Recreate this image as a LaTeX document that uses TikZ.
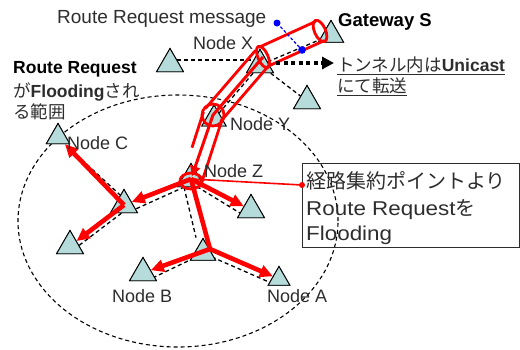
\documentclass[tikz,border=0pt]{standalone}
\usepackage{fontspec}
\setmainfont{Liberation Sans}
\newfontfamily\jp{Noto Sans CJK JP}
\newfontfamily\wlat{Liberation Sans}[FakeStretch=1.12]
\usetikzlibrary{shapes.geometric,arrows.meta,calc}
\definecolor{trifill}{RGB}{182,219,219}
\definecolor{txtgray}{RGB}{45,45,45}
\tikzset{
  tri/.style={regular polygon, regular polygon sides=3, minimum size=31pt, inner sep=0pt, draw=black, line width=0.9pt, fill=trifill},
  region/.style={draw=black, line width=1.1pt, dash pattern=on 4pt off 3pt},
  link/.style={draw=black, line width=1.3pt, dash pattern=on 4pt off 3pt},
  tubeline/.style={draw=red, line width=2.8pt},
  tubecap/.style={ellipse, draw=red, line width=2.8pt, inner sep=0pt},
  flood/.style={draw=red, line width=4.6pt, -{Triangle[length=13pt,width=12pt]}},
  lbl/.style={text=txtgray, inner sep=0pt, anchor=base west},
}
\begin{document}
\begin{tikzpicture}[x=1pt,y=-1pt,font=\fontsize{18}{22}\selectfont]
\useasboundingbox (0,0) rectangle (520,349);
% flooding region
\draw[region] (178,221) ellipse [x radius=160pt, y radius=126pt];
\path (170,64) coordinate (cT0) (260,65) coordinate (cX) (331,35) coordinate (cG)
      (307,101) coordinate (cTR) (214,119) coordinate (cY) (191,179) coordinate (cZ)
      (251,210) coordinate (cRZ) (58,137) coordinate (cC) (124,205) coordinate (cML)
      (70,246) coordinate (cLL) (203,253) coordinate (cBM) (143,273) coordinate (cB)
      (279,279) coordinate (cA);
\node[tri] (T0) at (cT0) {};
\node[tri] (X) at (cX) {};
\node[tri, minimum size=29pt] (G) at (cG) {};
\node[tri] (TR) at (cTR) {};
\node[tri, minimum size=28pt] (Y) at (cY) {};
\node[tri] (Z) at (cZ) {};
\node[tri] (RZ) at (cRZ) {};
\node[tri, minimum size=27pt] (C) at (cC) {};
\node[tri] (ML) at (cML) {};
\node[tri] (LL) at (cLL) {};
\node[tri, minimum size=29pt] (BM) at (cBM) {};
\node[tri] (B) at (cB) {};
\node[tri, minimum size=25pt] (A) at (cA) {};
% dashed links
\draw[link] ([shift={(0,-4)}]T0.center) -- ([shift={(0,-5)}]X.center);
\draw[link] (X) -- (TR);
\draw[link] (X) -- (G);
\draw[link] (X) -- (Y);
\draw[link] ([shift={(0,5)}]Z.center) -- ([shift={(0,5)}]ML.east);
\draw[link] ([shift={(7,0)}]ML.center) -- ([shift={(7,0)}]C.south);
\draw[link] ([shift={(3,4)}]ML.center) -- ([shift={(3,4)}]LL.center);
\draw[link] ([shift={(0,4)}]Z.center) -- ([shift={(0,4)}]RZ.west);
\draw[link] ([shift={(-7,0)}]Z.south) -- ([shift={(-7,0)}]BM.north);
\draw[link] ([shift={(0,5)}]BM.west) -- ([shift={(0,5)}]B.east);
\draw[link] ([shift={(0,4)}]BM.east) -- ([shift={(0,4)}]A.west);
% redraw triangles over the links
\foreach \n/\s in {T0/31,X/31,G/29,TR/31,Y/28,Z/31,RZ/31,C/27,ML/31,LL/31,BM/29,B/31,A/25}
  \node[tri, minimum size=\s pt] at (\n.center) {};
% tunnel
\coordinate (tG) at (320,31);
\coordinate (tX) at (263,57);
\coordinate (tY) at (213,115);
\coordinate (tZ) at (192,180);
\draw[tubeline] ($(tX)!10.5pt!90:(tG)$) -- ($(tG)!10.5pt!-90:(tX)$);
\draw[tubeline] ($(tX)!10.5pt!-90:(tG)$) -- ($(tG)!10.5pt!90:(tX)$);
\draw[tubeline] ($(tY)!10pt!90:(tX)$) -- ($(tX)!10pt!-90:(tY)$);
\draw[tubeline] ($(tY)!10pt!-90:(tX)$) -- ($(tX)!10pt!90:(tY)$);
\draw[tubeline] ($(tY)!10pt!90:(tZ)$) -- ($(tZ)!10pt!-90:(tY)$);
\draw[tubeline] ($(tY)!10pt!-90:(tZ)$) -- ($($(tY)!10pt!-90:(tZ)$)!0.55!($(tZ)!10pt!90:(tY)$)$);
\node[tubecap, minimum width=11pt, minimum height=23pt, rotate=24] (capG) at (tG) {};
\node[tubecap, minimum width=10pt, minimum height=23pt, rotate=24] (capX) at (tX) {};
\node[circle, draw=red, line width=2.8pt, minimum size=22pt, inner sep=0pt] (capY) at (tY) {};
\node[ellipse, draw=red, line width=2.8pt, minimum width=22pt, minimum height=16pt, inner sep=0pt] (capZ) at (191,181) {};
% message path inside tunnel
\draw[red, line width=3pt, -{Triangle[length=10pt,width=10pt]}, shorten >=3pt] (tX) -- (tY) -- (Z.center);
% flooding arrows
\draw[flood] (Z.center) -- (ML);
\draw[flood] (ML.center) -- (C);
\draw[flood] (ML.center) -- (LL);
\draw[flood] (Z.center) -- (RZ);
\coordinate (hub) at (210,249);
\draw[red, line width=4.6pt] (Z.center) -- (hub);
\draw[flood] (hub) -- (B);
\draw[flood] (hub) -- (A);
% callout
\node[draw=txtgray, line width=0.9pt, anchor=north west, minimum width=217pt, minimum height=84pt, inner sep=0pt] (box) at (302,163) {};
\coordinate (cdot) at (302,185);
\draw[red, line width=1.6pt] (Z.center) -- (cdot);
\fill[red] (cdot) circle[radius=3pt];
\node[lbl, font=\jp\fontsize{20}{24}\selectfont] at (306,188) {経路集約ポイントより};
\node[lbl, font=\fontsize{20}{24}\selectfont] at (306,215) {{\wlat Route Request}{\jp を}};
\node[lbl, font=\fontsize{20}{24}\selectfont] at (306,240) {\wlat Flooding};
% labels
\node[lbl, font=\fontsize{19}{22}\selectfont] (rrm) at (57,23) {Route Request message};
\node[lbl, font=\fontsize{18.5}{22}\selectfont\bfseries, text=black] (gws) at (338,26) {Gateway S};
\node[lbl] at (193,49) {Node X};
\node[lbl] at (230,130) {Node Y};
\node[lbl] at (204,177) {Node Z};
\node[lbl] at (67,149) {Node C};
\node[lbl] at (112,302) {Node B};
\node[lbl] at (267,302) {Node A};
\node[lbl, font=\fontsize{17.5}{20}\selectfont\bfseries, text=black] at (13,73) {Route Request};
\node[lbl, font=\fontsize{17.5}{20}\selectfont] at (13,97) {{\jp が}\textbf{Flooding}{\jp され}};
\node[lbl, font=\fontsize{17.5}{20}\selectfont] at (13,118) {\jp る範囲};
\node[lbl, font=\fontsize{17.5}{20}\selectfont] (tun1) at (337,71) {\underline{{\jp トンネル内は}\textbf{Unicast}}};
\node[lbl, font=\fontsize{17.5}{20}\selectfont] (tun2) at (337,92) {\underline{\jp にて転送}};
% message pointer
\coordinate (bm1) at (277,23);
\coordinate (bm2) at (302,50);
\draw[blue, line width=1.2pt, dash pattern=on 3pt off 2pt] (bm1) -- (bm2);
\fill[blue] (bm1) circle[radius=3.5pt];
\fill[blue] (bm2) circle[radius=3.8pt];
% unicast arrow
\coordinate (dstart) at (276,63);
\coordinate (dtip) at (334,63);
\draw[black, line width=4pt, dash pattern=on 4pt off 3.5pt, -{Triangle[length=12pt,width=12pt]}] (dstart) -- (dtip);
\end{tikzpicture}
\end{document}
